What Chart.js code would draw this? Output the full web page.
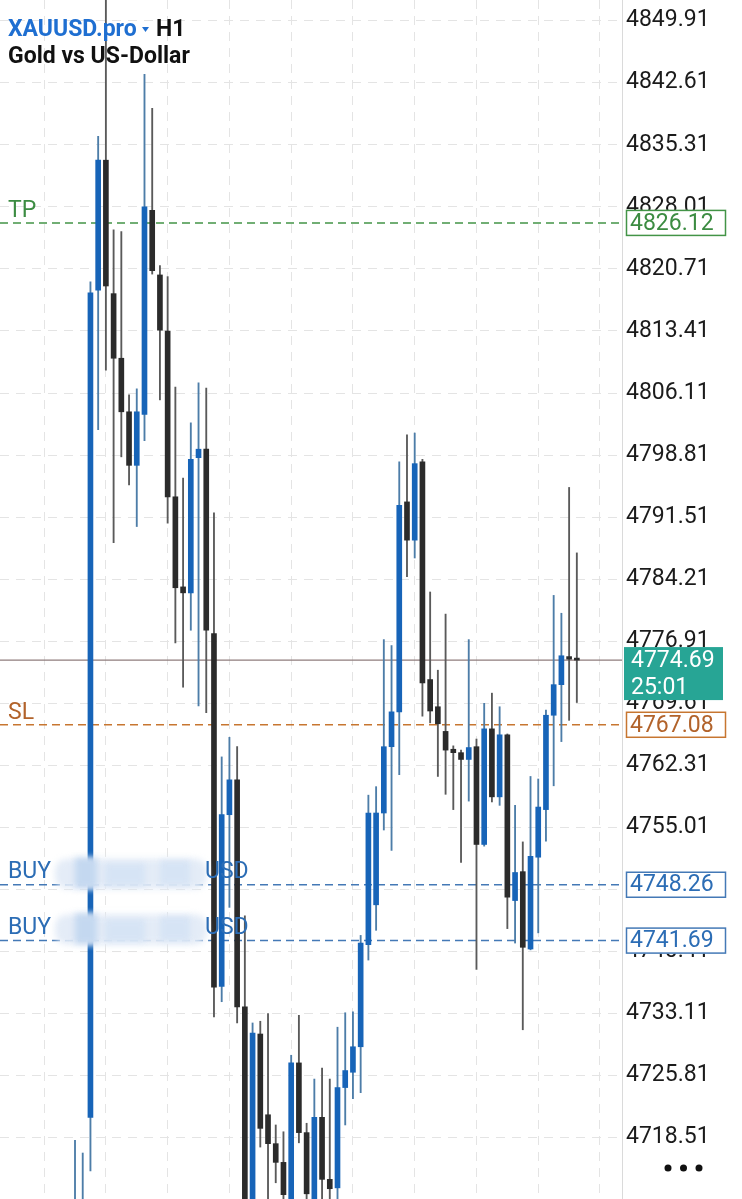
<!DOCTYPE html>
<html>
<head>
<meta charset="utf-8">
<title>XAUUSD.pro H1</title>
<script src="https://cdn.jsdelivr.net/npm/chart.js@4.4.1/dist/chart.umd.min.js"></script>
<style>
  html, body { margin: 0; padding: 0; background: #fff; }
  #wrap { width: 742px; height: 1199px; }
</style>
</head>
<body>
<div id="wrap"><canvas id="chart" width="742" height="1199"></canvas></div>
<script>
// H1 candles, oldest first (left edge of the screen -> live bar)
const candleOpen = [4706.0, 4707.0, 4720.9, 4818.2, 4833.5, 4817.8, 4810.2, 4803.9, 4797.6, 4803.6,
  4827.6, 4820.0, 4813.4, 4793.9, 4783.3, 4782.6, 4798.5, 4799.5, 4777.8, 4736.3,
  4756.5, 4760.6, 4733.9, 4708.0, 4730.7, 4721.2, 4717.8, 4715.6, 4708.0, 4727.3,
  4719.1, 4709.0, 4720.9, 4713.6, 4712.6, 4724.4, 4726.2, 4729.2, 4741.2, 4745.9,
  4756.7, 4764.5, 4768.6, 4793.3, 4788.8, 4798.0, 4772.4, 4769.2, 4766.3, 4764.2,
  4763.8, 4763.0, 4764.5, 4753.0, 4766.6, 4758.6, 4765.9, 4746.4, 4749.8, 4740.7,
  4751.5, 4757.1, 4768.2, 4771.8, 4775.1, 4774.75];
const candleHigh = [4718.2, 4716.7, 4819.2, 4836.3, 4856.0, 4825.3, 4825.1, 4805.9, 4806.6, 4843.6,
  4839.6, 4821.1, 4819.8, 4806.8, 4796.1, 4802.6, 4807.3, 4806.7, 4792.0, 4763.3,
  4765.6, 4764.5, 4744.6, 4732.0, 4732.2, 4733.1, 4720.0, 4719.2, 4728.2, 4732.9,
  4720.2, 4725.4, 4726.7, 4725.4, 4731.5, 4733.2, 4733.3, 4742.3, 4758.8, 4759.8,
  4777.1, 4776.4, 4798.0, 4801.2, 4801.4, 4798.3, 4782.7, 4773.5, 4780.1, 4764.6,
  4764.1, 4777.1, 4765.4, 4769.6, 4770.8, 4769.2, 4766.0, 4757.6, 4753.3, 4761.0,
  4760.7, 4768.8, 4782.3, 4780.2, 4795.0, 4787.3];
const candleLow = [4700.0, 4700.0, 4714.6, 4801.8, 4808.8, 4788.5, 4798.6, 4795.3, 4790.4, 4800.5,
  4820.1, 4805.3, 4790.8, 4776.7, 4771.5, 4778.2, 4769.3, 4768.5, 4732.7, 4734.5,
  4745.6, 4732.0, 4700.0, 4704.0, 4717.4, 4709.0, 4713.2, 4708.0, 4705.0, 4717.9,
  4708.0, 4706.0, 4711.0, 4709.5, 4710.0, 4720.0, 4723.1, 4723.8, 4739.4, 4742.9,
  4754.7, 4752.3, 4761.2, 4784.5, 4786.7, 4768.1, 4767.3, 4761.0, 4758.9, 4757.1,
  4750.9, 4758.1, 4738.3, 4752.8, 4758.0, 4757.6, 4743.1, 4741.4, 4731.2, 4740.6,
  4742.6, 4753.4, 4759.9, 4765.1, 4767.6, 4769.7];
const candleClose = [4709.0, 4710.5, 4817.9, 4833.5, 4818.7, 4810.2, 4803.9, 4797.6, 4803.9, 4828.0,
  4820.5, 4813.5, 4793.9, 4783.2, 4782.6, 4798.3, 4799.5, 4778.2, 4736.2, 4756.5,
  4760.6, 4733.9, 4706.0, 4730.8, 4719.6, 4717.8, 4715.6, 4711.8, 4727.3, 4719.1,
  4711.9, 4720.9, 4713.6, 4712.5, 4724.4, 4726.4, 4729.2, 4741.4, 4756.7, 4756.7,
  4764.5, 4768.6, 4792.9, 4788.8, 4797.8, 4772.0, 4768.7, 4767.2, 4764.1, 4763.8,
  4763.0, 4764.4, 4753.0, 4766.6, 4758.6, 4765.9, 4746.8, 4749.7, 4740.9, 4751.6,
  4757.4, 4768.2, 4771.8, 4775.2, 4774.8, 4774.69];

// price scale labels on the right
const priceTicks = [4849.91, 4842.61, 4835.31, 4828.01, 4820.71, 4813.41, 4806.11, 4798.81,
  4791.51, 4784.21, 4776.91, 4769.61, 4762.31, 4755.01, 4747.71, 4740.41, 4733.11,
  4725.81, 4718.51];
// vertical grid every 8 bars
const timeGrid = [-4, 4, 12, 20, 28, 36, 44, 52, 60, 68];

// order levels
const levelNames = ['TP', 'SL', 'BUY', 'BUY'];
const levelPrices = [4826.12, 4767.08, 4748.26, 4741.69];
const lastPrice = 4774.69;
const barTimer = '25:01';

const UP = '#1764b8', DOWN = '#2b2b2b';
const UP_WICK = '#4d7da8', DOWN_WICK = '#5a5a5a';
const levelColor = {
  TP: { line: '#439447', text: '#3c8c42' },
  SL: { line: '#c77630', text: '#b2632b' },
  BUY: { line: '#4479b6', text: '#2c6db5' }
};
const FONT = 'Roboto, "Noto Sans", sans-serif';

const isUp = i => candleClose[i] >= candleOpen[i];

const bodies = candleOpen.map((o, i) => ({ x: i, y: [o, candleClose[i]] }));
const wicks = candleLow.map((l, i) => ({ x: i, y: [l, candleHigh[i]] }));

function blob(ctx, x, y, w, h) {
  ctx.save();
  ctx.filter = 'blur(3px)';
  ctx.fillStyle = '#e4ecf7';
  ctx.beginPath();
  ctx.roundRect(x, y + 3, w, h - 6, 12);
  ctx.fill();
  ctx.fillStyle = '#c4d8f0';
  ctx.fillRect(x + 20, y + 2, 22, h - 6);
  ctx.fillStyle = '#d6e4f5';
  ctx.fillRect(x + 50, y + 8, 40, h - 14);
  ctx.fillRect(x + 105, y + 5, 30, h - 12);
  ctx.restore();
}

const overlay = {
  id: 'overlay',
  beforeDatasetsDraw(chart) {
    const { ctx, chartArea: a, scales: { y } } = chart;
    ctx.save();
    ctx.lineWidth = 1.5;
    ctx.setLineDash([8, 5]);
    levelPrices.forEach((p, i) => {
      const py = y.getPixelForValue(p);
      ctx.strokeStyle = levelColor[levelNames[i]].line;
      ctx.beginPath();
      ctx.moveTo(a.left, py);
      ctx.lineTo(a.right, py);
      ctx.stroke();
    });
    ctx.setLineDash([]);
    ctx.lineWidth = 1.3;
    ctx.strokeStyle = '#8f7d7d';
    const ly = y.getPixelForValue(lastPrice);
    ctx.beginPath();
    ctx.moveTo(a.left, ly);
    ctx.lineTo(a.right, ly);
    ctx.stroke();
    ctx.restore();
  },
  afterDraw(chart) {
    const { ctx, chartArea: a, scales: { y } } = chart;
    ctx.save();
    ctx.textBaseline = 'middle';
    ctx.textAlign = 'left';

    // level names + boxes on the price scale
    levelPrices.forEach((p, i) => {
      const name = levelNames[i];
      const c = levelColor[name];
      const py = y.getPixelForValue(p);
      ctx.font = '23px ' + FONT;
      ctx.fillStyle = c.text;
      ctx.textBaseline = 'alphabetic';
      if (name === 'BUY') {
        blob(ctx, 55, py - 29, 152, 36);
        ctx.fillStyle = c.text;
        ctx.fillText('BUY', 8, py - 7);
        ctx.fillText('USD', 205, py - 7);
      } else {
        ctx.fillText(name, 8, py - 6);
      }
      ctx.textBaseline = 'middle';
      ctx.fillStyle = '#fff';
      ctx.fillRect(a.right + 4, py - 13, 100, 26);
      ctx.strokeStyle = c.line;
      ctx.lineWidth = 1.5;
      ctx.strokeRect(a.right + 4.5, py - 12.5, 99, 25);
      ctx.fillStyle = c.text;
      ctx.fillText(p.toFixed(2), a.right + 8, py + 1);
    });

    // live price box
    const ly = y.getPixelForValue(lastPrice);
    ctx.fillStyle = '#27a595';
    ctx.fillRect(a.right + 2, ly - 13, 99, 53);
    ctx.fillStyle = '#fff';
    ctx.font = '23px ' + FONT;
    ctx.fillText(lastPrice.toFixed(2), a.right + 9, ly + 1);
    ctx.fillText(barTimer, a.right + 9, ly + 28);

    // symbol title
    ctx.textBaseline = 'alphabetic';
    ctx.font = 'bold 23px ' + FONT;
    ctx.fillStyle = '#1f6fd1';
    ctx.fillText('XAUUSD.pro', 8, 36);
    ctx.beginPath();
    ctx.moveTo(142, 27);
    ctx.lineTo(149, 27);
    ctx.lineTo(145.5, 32);
    ctx.closePath();
    ctx.fill();
    ctx.fillStyle = '#111';
    ctx.fillText('H1', 156, 36);
    ctx.fillText('Gold vs US-Dollar', 8, 63);

    // menu dots
    ctx.fillStyle = '#111';
    [668, 683.5, 699].forEach(dx => {
      ctx.beginPath();
      ctx.arc(dx, 1168, 3.5, 0, Math.PI * 2);
      ctx.fill();
    });
    ctx.restore();
  }
};

new Chart(document.getElementById('chart'), {
  type: 'bar',
  data: {
    datasets: [
      {
        label: 'body',
        data: bodies,
        barThickness: 5,
        minBarLength: 2,
        grouped: false,
        backgroundColor: c => isUp(c.dataIndex) ? UP : DOWN
      },
      {
        label: 'wick',
        data: wicks,
        barThickness: 1.2,
        grouped: false,
        backgroundColor: c => isUp(c.dataIndex) ? UP_WICK : DOWN_WICK
      }
    ]
  },
  options: {
    responsive: false,
    devicePixelRatio: 1,
    animation: false,
    layout: { padding: 0 },
    plugins: { legend: { display: false }, tooltip: { enabled: false } },
    scales: {
      x: {
        type: 'linear',
        offset: false,
        min: -9.715,
        max: 70.85,
        afterBuildTicks: s => { s.ticks = timeGrid.map(v => ({ value: v })); },
        afterFit: s => { s.height = 0; s.paddingLeft = 0; s.paddingRight = 0; },
        ticks: { display: false },
        grid: { color: '#e4e4e4', lineWidth: 1, drawTicks: false, offset: false },
        border: { display: false, dash: [9, 7] }
      },
      y: {
        position: 'right',
        min: 4711.29,
        max: 4852.345,
        afterBuildTicks: s => { s.ticks = priceTicks.map(v => ({ value: v })); },
        afterFit: s => { s.width = 120; s.paddingTop = 0; s.paddingBottom = 0; },
        ticks: {
          padding: 4,
          color: '#1b1b1b',
          font: { family: FONT, size: 23 },
          callback: v => v.toFixed(2)
        },
        grid: { color: '#e4e4e4', lineWidth: 1, drawTicks: false },
        border: { display: true, color: '#dadada', width: 1, dash: [9, 7] }
      }
    }
  },
  plugins: [overlay]
});
</script>
</body>
</html>
